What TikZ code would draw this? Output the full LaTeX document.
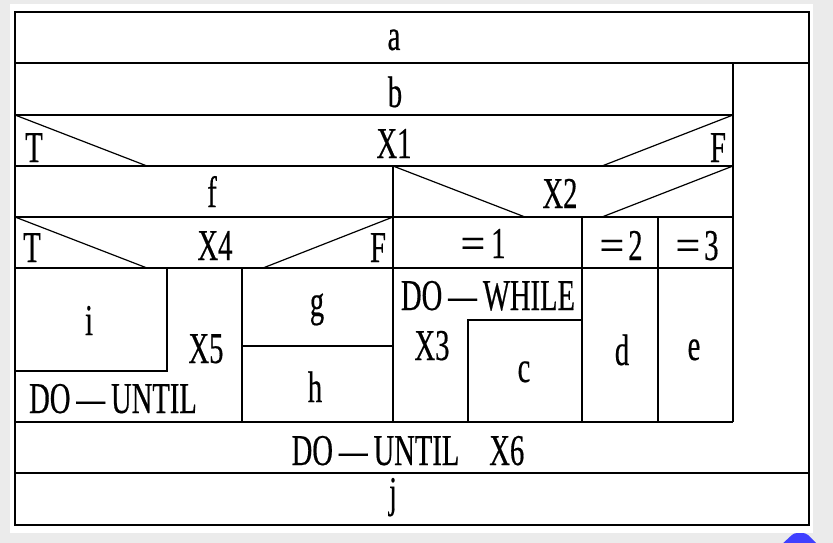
\documentclass[tikz,border=0pt]{standalone}
\usepackage{fontspec}
\setmainfont{Liberation Serif}
\newfontfamily\nsfont[FakeStretch=0.65,FakeBold=0.4]{Liberation Serif}
\newfontfamily\widefont[FakeBold=0.4]{Liberation Serif}
\newcommand{\dash}{\hspace{6pt}—\hspace{6pt}}
\begin{document}
\begin{tikzpicture}[x=1pt,y=-1pt,line width=1.6pt,
		lbl/.style={anchor=base,inner sep=0pt,font=\nsfont\fontsize{44}{44}\selectfont},
		diag/.style={line width=1.2pt}]
		\useasboundingbox(0,0)rectangle(833,543);
		\fill[black!8](0,0)rectangle(833,543);
		\fill[white](10,4)rectangle(813,533);
		\fill[blue!75!white,rounded corners=3pt](780,546)--(794,533)--(806,533)--(819,546)--cycle;
		% frame and rows
		\draw(15,12)rectangle(809,525);
		\draw(15,63)--(809,63);
		\draw(733,63)--(733,422);
		\draw(15,115)--(733,115);
		\draw(15,166)--(733,166);
		\draw(15,217)--(733,217);
		\draw(15,268)--(733,268);
		\draw(15,422)--(733,422);
		\draw(15,473)--(809,473);
		% branches
		\draw[diag](15,115)--(147,166);
		\draw[diag](733,115)--(602,166);
		\draw[diag](393,166)--(525,217);
		\draw[diag](733,166)--(602,217);
		\draw[diag](15,217)--(147,268);
		\draw[diag](393,217)--(263,268);
		% columns and inner boxes
		\draw(393,166)--(393,422);
		\draw(582,217)--(582,422);
		\draw(658,217)--(658,422);
		\draw(242,268)--(242,422);
		\draw(15,371)--(167,371)--(167,268);
		\draw(242,346)--(393,346);
		\draw(582,320)--(468,320)--(468,422);
		% texts
		\node[lbl](a)at(394,50){a};
		\node[lbl](b)at(395,107){b};
		\node[lbl](x1)at(394,158){X1};
		\node[lbl](t1)at(34,162){T};
		\node[lbl](f1)at(718,162){F};
		\node[lbl](f)at(212,207){f};
		\node[lbl](x2)at(560,208){X2};
		\node[lbl](t4)at(32,262){T};
		\node[lbl](x4)at(215,260){X4};
		\node[lbl](f4)at(378,262){F};
		\node[lbl](eq1)at(483,258){{\widefont=}\hspace{6pt}1};
		\node[lbl](eq2)at(621,260){{\widefont=}\hspace{4pt}2};
		\node[lbl](eq3)at(697,260){{\widefont=}\hspace{4pt}3};
		\node[lbl](i)at(89,335){i};
		\node[lbl](x5)at(206,363){X5};
		\node[lbl](until)at(113,413){DO\dash UNTIL};
		\node[lbl](g)at(317,316){g};
		\node[lbl](h)at(315,402){h};
		\node[lbl](while)at(488,310){DO\dash WHILE};
		\node[lbl](x3)at(432,360){X3};
		\node[lbl](c)at(524,382){c};
		\node[lbl](d)at(622,365){d};
		\node[lbl](e)at(694,360){e};
		\node[lbl](x6)at(408,465){DO\dash UNTIL\hspace{30pt}X6};
		\node[lbl](j)at(393,507){j};
	\end{tikzpicture}
\end{document}
